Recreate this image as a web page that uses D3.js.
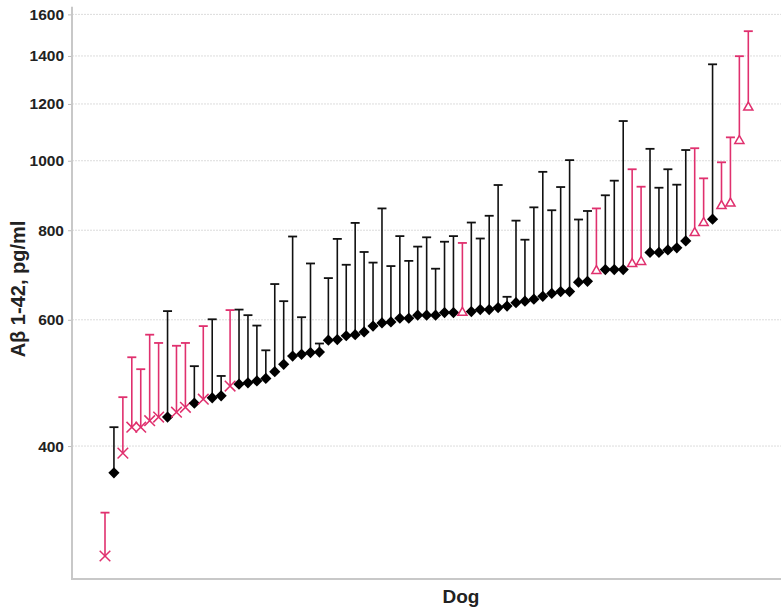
<!DOCTYPE html>
<html><head><meta charset="utf-8">
<script src="https://cdn.jsdelivr.net/npm/d3@7/dist/d3.min.js"></script>
<style>body{margin:0;background:#fff;} svg{display:block;font-family:"Liberation Sans",Arial,sans-serif;}</style>
</head><body>
<svg id="c" width="783" height="609"></svg>
<script>
// Data: mean value (marker) and upper error bar value for each dog, sorted
const dogs = d3.range(1, 74);
const values = [281,367,391,425,425,434,439,439,446,453,459,465,467,470,485,488,490,493,497,508,
  520,534,537,540,541,562,563,570,572,577,588,594,596,603,603,609,609,609,614,614,
  614,616,620,620,624,627,634,637,641,647,653,657,657,677,679,702,705,705,705,718,
  723,745,745,751,756,773,793,819,829,865,872,1066,1187];
const upper = [323,425,468,532,512,572,557,617,552,557,517,588,601,501,619,620,609,589,544,673,
  637,784,605,719,556,686,778,716,819,746,721,858,713,785,725,759,782,707,771,785,
  768,820,779,838,925,646,825,776,861,965,853,919,1002,828,851,858,895,938,1136,973,
  920,1039,917,973,926,1035,1041,945,1363,995,1078,1399,1516];
const groups = ["x","d","x","x","x","x","x","d","x","x","d","x","d","d","x","d","d","d","d","d",
  "d","d","d","d","d","d","d","d","d","d","d","d","d","d","d","d","d","d","d","d",
  "t","d","d","d","d","d","d","d","d","d","d","d","d","d","d","t","d","d","d","t",
  "t","d","d","d","d","d","t","t","d","t","t","t","t"];
const yTicks = [400,600,800,1000,1200,1400,1600];

const pink = "#e0306e";
const svg = d3.select("#c");
const x = d3.scalePoint().domain(dogs).range([105, 748.3]);
const y = d3.scaleLog().domain([261, 1640]).range([579, 6.7]);

// grid
svg.append("g").selectAll("line").data(yTicks).join("line")
  .attr("x1", 72).attr("x2", 781).attr("y1", d => y(d)).attr("y2", d => y(d))
  .attr("stroke", "#dcdcdc").attr("stroke-width", 1).attr("stroke-dasharray", "2,1");

// axes
const ya = svg.append("g").attr("transform", "translate(72,0)")
  .call(d3.axisLeft(y).tickValues(yTicks).tickFormat(d3.format("d")).tickSize(4).tickPadding(4));
ya.select(".domain").remove();
ya.selectAll(".tick line").attr("stroke", "#bbb");
ya.selectAll(".tick text").attr("font-size", 15.5).attr("font-weight", "bold").attr("fill", "#222")
  .attr("font-family", "'Liberation Sans',Arial,sans-serif");
svg.append("line").attr("x1", 72).attr("x2", 72).attr("y1", 6.7).attr("y2", 579).attr("stroke", "#c8c8c8").attr("stroke-width", 2);
svg.append("line").attr("x1", 71).attr("x2", 781).attr("y1", 579).attr("y2", 579).attr("stroke", "#c8c8c8").attr("stroke-width", 2);

// error bars
const col = g => g === "d" ? "#111" : pink;
const eb = svg.append("g");
dogs.forEach((dg, i) => {
  const cx = x(dg), c = col(groups[i]);
  eb.append("line").attr("x1", cx).attr("x2", cx).attr("y1", y(values[i])).attr("y2", y(upper[i]))
    .attr("stroke", c).attr("stroke-width", 1.6);
  eb.append("line").attr("x1", cx - 4.5).attr("x2", cx + 4.5).attr("y1", y(upper[i])).attr("y2", y(upper[i]))
    .attr("stroke", c).attr("stroke-width", 1.8);
});

// markers
const mk = svg.append("g");
dogs.forEach((dg, i) => {
  const cx = x(dg), cy = y(values[i]), g = groups[i];
  if (g === "d") {
    mk.append("path").attr("d", d3.symbol(d3.symbolDiamond2, 80)())
      .attr("transform", `translate(${cx},${cy})`).attr("fill", "#000");
  } else if (g === "x") {
    mk.append("path").attr("d", d3.symbol(d3.symbolTimes, 75)())
      .attr("transform", `translate(${cx},${cy})`).attr("fill", "none").attr("stroke", pink).attr("stroke-width", 1.5);
  } else {
    mk.append("path").attr("d", d3.symbol(d3.symbolTriangle2, 60)())
      .attr("transform", `translate(${cx},${cy})`).attr("fill", "#fff").attr("stroke", pink).attr("stroke-width", 1.5);
  }
});

// titles
svg.append("text").attr("transform", "translate(25,289) rotate(-90)").attr("text-anchor", "middle")
  .attr("font-size", 20).attr("font-weight", "bold").attr("fill", "#222").text("Aβ 1-42, pg/ml");
svg.append("text").attr("x", 461).attr("y", 603).attr("text-anchor", "middle")
  .attr("font-size", 19).attr("font-weight", "bold").attr("fill", "#222").text("Dog");
</script>
</body></html>
